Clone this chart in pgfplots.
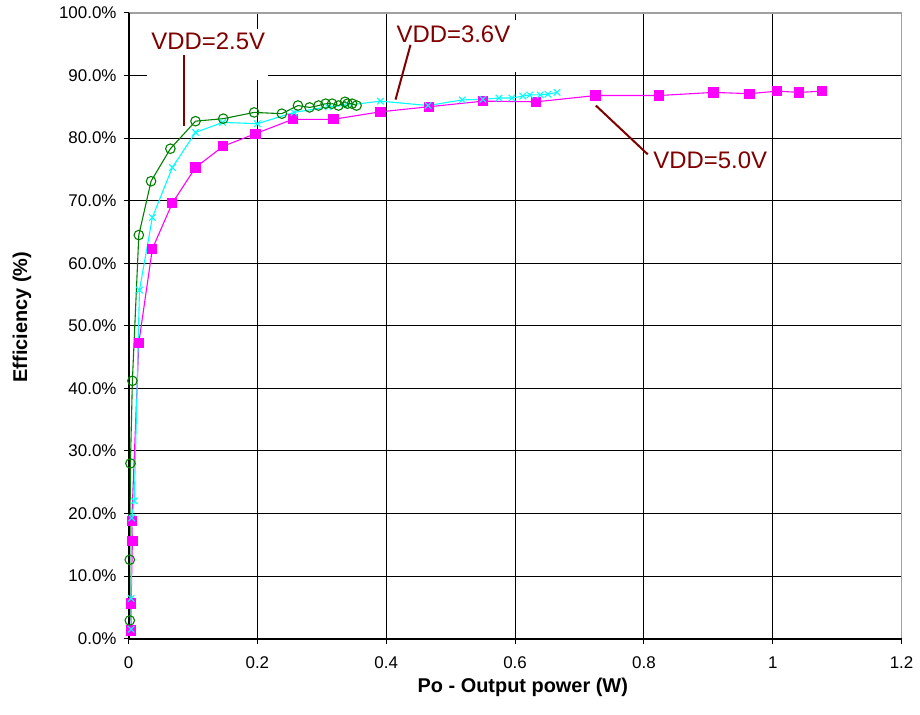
\documentclass[border=0pt]{standalone}
\usepackage{fontspec}
\setmainfont{Liberation Sans}
\usepackage{pgfplots}
\pgfplotsset{compat=1.18}
\definecolor{anno}{HTML}{800000}
\definecolor{ggreen}{HTML}{008000}
\definecolor{gcyan}{HTML}{00FFFF}
\definecolor{gmag}{HTML}{FF00FF}
\definecolor{bord}{HTML}{A0A0A0}
\begin{document}
\begin{tikzpicture}
\begin{axis}[
  scale only axis, width=388pt, height=314pt,
  xmin=0, xmax=1.2, ymin=0, ymax=100,
  xtick={0,0.2,0.4,0.6,0.8,1,1.2},
  xticklabels={0,0.2,0.4,0.6,0.8,1,1.2},
  ytick={0,10,20,30,40,50,60,70,80,90,100},
  yticklabels={0.0\%,10.0\%,20.0\%,30.0\%,40.0\%,50.0\%,60.0\%,70.0\%,80.0\%,90.0\%,100.0\%},
  grid=major, major grid style={black, line width=0.5pt},
  axis line style={draw=none},
  tick pos=left, tick align=outside, major tick length=2.5pt,
  tick style={black, line width=0.5pt},
  ticklabel style={font=\fontsize{8.5}{9.5}\selectfont},
  xticklabel style={yshift=-3pt},
  xlabel={Po - Output power (W)}, ylabel={Efficiency (\%)},
  label style={font=\bfseries\fontsize{10}{12}\selectfont},
  xlabel style={at={(axis description cs:0.51,-0.078)}, anchor=center},
  ylabel style={at={(axis description cs:-0.1379,0.514)}, anchor=center},
  clip=false,
]
\coordinate (sw) at (rel axis cs:0,0);
\coordinate (ne) at (rel axis cs:1,1);
% white label boxes covering grid
\fill[white] (axis cs:0.0294,89.3) rectangle (axis cs:0.2166,97.5);
\fill[white] (axis cs:0.4037,90.6) rectangle (axis cs:0.6079,98.9);

% VDD = 5.0V
\addplot[gmag, line width=0.55pt, mark=square*, mark size=2.3pt, mark options={solid}] coordinates {
(0.004,1.3) (0.004,5.6) (0.006,15.6) (0.005,18.8) (0.016,47.3) (0.037,62.3)
(0.068,69.6) (0.104,75.3) (0.147,78.7) (0.197,80.7) (0.255,83.0) (0.318,83.0)
(0.391,84.2) (0.466,85.0) (0.550,85.9) (0.633,85.8) (0.725,86.8) (0.823,86.8)
(0.908,87.3) (0.964,87.1) (1.007,87.5) (1.041,87.3) (1.077,87.5)
};
% VDD = 3.6V
\addplot[gcyan, line width=0.55pt, mark=x, mark size=2.3pt, mark options={solid}] coordinates {
(0.004,1.5) (0.004,6.4) (0.005,19.3) (0.009,22.0) (0.017,55.7) (0.037,67.3)
(0.068,75.3) (0.104,80.9) (0.146,82.5) (0.200,82.3) (0.257,84.1) (0.310,85.0)
(0.335,85.2) (0.391,85.9) (0.465,85.2) (0.518,86.1) (0.550,86.2) (0.575,86.4)
(0.595,86.4) (0.612,86.7) (0.623,86.9) (0.639,86.9) (0.651,87.0) (0.665,87.3)
};
% VDD = 2.5V
\addplot[ggreen, line width=0.55pt, mark=o, mark size=2.4pt, mark options={solid}] coordinates {
(0.002,2.9) (0.002,12.6) (0.003,28.0) (0.006,41.2) (0.016,64.5) (0.035,73.1)
(0.065,78.3) (0.104,82.7) (0.147,83.1) (0.195,84.1) (0.238,83.9) (0.263,85.2)
(0.281,84.9) (0.295,85.2) (0.306,85.5) (0.316,85.5) (0.326,85.2) (0.336,85.8)
(0.340,85.5) (0.347,85.5) (0.354,85.2)
};

% annotations
\node[text=anno, font=\fontsize{12}{14}\selectfont] at (axis cs:0.1237,95.5) {VDD=2.5V};
\node[text=anno, font=\fontsize{12}{14}\selectfont] at (axis cs:0.5043,96.6) {VDD=3.6V};
\node[text=anno, font=\fontsize{12}{14}\selectfont] at (axis cs:0.903,76.4) {VDD=5.0V};
\draw[anno, line width=1pt] (axis cs:0.0866,93.3) -- (axis cs:0.0866,82.0);
\draw[anno, line width=1pt] (axis cs:0.4145,86.15) -- (axis cs:0.4377,94.9);
\draw[anno, line width=1pt] (axis cs:0.7254,85.2) -- (axis cs:0.806,77.4);

% frame
\draw[bord, line width=0.8pt] (rel axis cs:0,1) -- (rel axis cs:1,1) -- (rel axis cs:1,0);
\draw[black, line width=1pt] (rel axis cs:0,1) -- (rel axis cs:0,0) -- (rel axis cs:1,0);
\end{axis}
\path ([shift={(-64.5pt,-38pt)}]sw) rectangle ([shift={(7.5pt,6.5pt)}]ne);
\end{tikzpicture}
\end{document}
